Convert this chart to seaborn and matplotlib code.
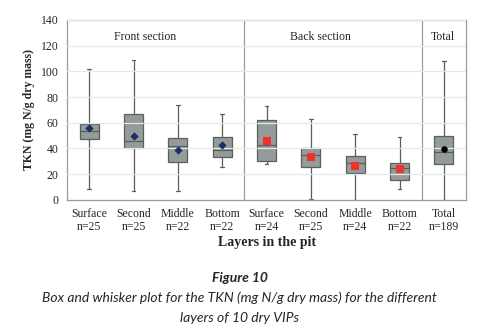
import seaborn as sns
import pandas as pd
import numpy as np
import matplotlib.pyplot as plt

layers = ["Surface", "Second", "Middle", "Bottom",
          "Surface", "Second", "Middle", "Bottom", "Total"]
counts = [25, 25, 22, 22, 24, 25, 24, 22, 189]
sections = ["Front"] * 4 + ["Back"] * 4 + ["Total"]

# five-number summaries
mins = [8.5, 7, 7, 25.5, 28, 1, 0, 8.5, 0]
q1s = [47, 40, 29.5, 33, 30, 25.4, 20.7, 15.5, 28]
medians = [53.6, 45.5, 41.5, 38.5, 42.5, 34.7, 28.5, 24.6, 37.6]
q3s = [59, 67, 48, 49, 62, 40, 34, 28.5, 50]
maxs = [102, 109, 74, 67, 73, 63, 51, 49, 108]
means = [56, 50, 39, 42.5, 46, 33.7, 26.4, 24, 39.7]

keys = [f"g{i}" for i in range(len(layers))]
rows = []
for k, a, b, c, d, e in zip(keys, mins, q1s, medians, q3s, maxs):
    for v in (a, b, c, d, e):
        rows.append({"group": k, "tkn": v})
df = pd.DataFrame(rows)

sns.set_style("white")
plt.rcParams["font.family"] = ["Liberation Serif", "DejaVu Serif"]

fig = plt.figure(figsize=(4.79, 3.33), dpi=100)
ax = fig.add_axes([0.14, 0.40, 0.833, 0.54])

sns.boxplot(data=df, x="group", y="tkn", order=keys, whis=(0, 100),
            color="#939c9a", saturation=1, width=0.43, linecolor="#5a5f5e",
            linewidth=0.9, capwidths=0.08, ax=ax, zorder=2)

pos = np.arange(len(keys))
mk = {"Front": ("D", "#1c2f6b", 18), "Back": ("s", "#ee3424", 26),
      "Total": ("o", "black", 22)}
for sec, (m, c, s) in mk.items():
    idx = [i for i, t in enumerate(sections) if t == sec]
    ax.scatter(pos[idx], [means[i] for i in idx], marker=m, color=c, s=s,
               zorder=4, linewidths=0)

ax.set_ylim(0, 140)
ax.set_xlim(-0.5, 8.5)
ax.set_yticks(range(0, 141, 20))
ax.yaxis.grid(True, color="#e6e8e8", linewidth=0.9, zorder=3)
ax.set_axisbelow(False)
for x in (3.5, 7.5):
    ax.axvline(x, color="#9a9d9c", linewidth=0.9, zorder=1)

ax.set_xticks(pos)
ax.set_xticklabels([f"{l}\nn={n}" for l, n in zip(layers, counts)],
                   fontsize=8.5, linespacing=1.1)
ax.tick_params(axis="x", length=0, pad=6)
ax.tick_params(axis="y", length=0, labelsize=8.5, pad=6)
for sp in ax.spines.values():
    sp.set_color("#9a9d9c")
    sp.set_linewidth(0.9)

ax.text(1.25, 127, "Front section", ha="center", va="center", fontsize=8.5)
ax.text(5.22, 127, "Back section", ha="center", va="center", fontsize=8.5)
ax.text(7.97, 127, "Total", ha="center", va="center", fontsize=8.5)

ax.set_xlabel("Layers in the pit", fontsize=10, fontweight="bold", labelpad=2)
ax.set_ylabel("TKN (mg N/g dry mass)", fontsize=8.5, fontweight="bold",
              labelpad=4)

fig.text(0.5, 1 - 278 / 333, "Figure 10", ha="center", va="center",
         fontsize=10, style="italic", fontweight="bold", family="Lato")
fig.text(0.5, 1 - 298 / 333,
         "Box and whisker plot for the TKN (mg N/g dry mass) for the different",
         ha="center", va="center", fontsize=10, style="italic", family="Lato")
fig.text(0.5, 1 - 318 / 333, "layers of 10 dry VIPs", ha="center",
         va="center", fontsize=10, style="italic", family="Lato")

fig.savefig("out.png", dpi=100)
